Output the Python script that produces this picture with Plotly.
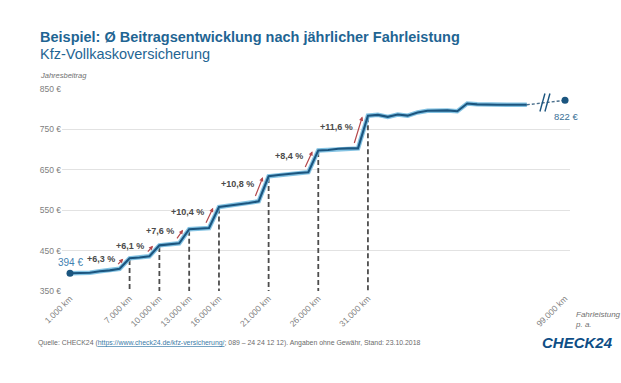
import plotly.graph_objects as go

# ---- data ----
km = [1000, 2000, 3000, 4000, 5000, 6000, 7000, 8000, 9000, 10000,
      11000, 12000, 13000, 14000, 15000, 16000, 17000, 18000, 19000, 20000,
      21000, 22000, 23000, 24000, 25000, 26000, 27000, 28000, 29000, 30000,
      31000, 32000, 33000, 34000, 35000, 36000, 37000, 38000, 39000, 40000,
      41000, 42000, 43000, 44000, 45000, 46000, 47000, 99000]
beitrag = [394, 394, 395, 399, 401, 405, 431, 433, 436, 463,
           465, 468, 503, 504, 506, 558, 561, 565, 568, 572,
           634, 637, 640, 642, 644, 698, 699, 702, 703, 703,
           784, 786, 781, 787, 784, 792, 796, 797, 797, 795,
           814, 812, 811, 811, 811, 811, 811, 822]

tick_km = [1000, 7000, 10000, 13000, 16000, 21000, 26000, 31000, 99000]
tick_text = ["1.000 km", "7.000 km", "10.000 km", "13.000 km", "16.000 km",
             "21.000 km", "26.000 km", "31.000 km", "99.000 km"]
step_km = [7000, 10000, 13000, 16000, 21000, 26000, 31000]
step_text = ["+6,3 %", "+6,1 %", "+7,6 %", "+10,4 %", "+10,8 %", "+8,4 %", "+11,6 %"]
y_ticks = [350, 450, 550, 650, 750, 850]
y_tick_text = ["350 €", "450 €", "550 €", "650 €", "750 €", "850 €"]

# ---- broken x scale: linear up to BREAK_KM, compressed beyond ----
BREAK_KM = 47000
COMPRESS = 0.074


def xpos(k):
    return k if k <= BREAK_KM else BREAK_KM + (k - BREAK_KM) * COMPRESS


val = dict(zip(km, beitrag))

W, H = 621, 383
ML, MR, MT, MB = 62, 51, 89, 92
PW, PH = W - ML - MR, H - MT - MB


def px(x):
    return (x - ML) / PW


def py(y):
    return (H - MB - y) / PH


DARK = "#1b557f"
GLOW = "rgba(110,185,222,0.85)"
TITLE_C = "#1f6593"
FONT = "Liberation Sans, Arial, sans-serif"

fig = go.Figure()

# dashed verticals at the steps
vx, vy = [], []
for t in step_km:
    vx += [xpos(t), xpos(t), None]
    vy += [val[t] - 4, 350, None]
fig.add_trace(go.Scatter(x=vx, y=vy, mode="lines", hoverinfo="skip",
                         line=dict(color="#4d4d4d", width=1.8, dash="5px,3px"),
                         showlegend=False))

solid_k = [k for k in km if k <= BREAK_KM]
solid_x = [xpos(k) for k in solid_k]
solid_y = [val[k] for k in solid_k]

fig.add_trace(go.Scatter(x=solid_x, y=solid_y, mode="lines", hoverinfo="skip",
                         line=dict(color=GLOW, width=4.5), showlegend=False))
fig.add_trace(go.Scatter(x=solid_x, y=solid_y, mode="lines",
                         line=dict(color=DARK, width=2.1), showlegend=False))

# dashed continuation to 99.000 km
fig.add_trace(go.Scatter(x=[xpos(BREAK_KM), xpos(km[-1])],
                         y=[val[BREAK_KM], val[km[-1]]], mode="lines",
                         line=dict(color="#4a6f8c", width=1.4, dash="3px,2px"),
                         showlegend=False))

fig.add_trace(go.Scatter(x=[xpos(km[0]), xpos(km[-1])], y=[beitrag[0], beitrag[-1]],
                         mode="markers", marker=dict(color=DARK, size=7),
                         showlegend=False))

annotations = []
for t, txt in zip(step_km, step_text):
    pre = t - 1000
    annotations.append(dict(
        x=xpos(t), y=val[t], ax=xpos(pre), ay=val[pre],
        xref="x", yref="y", axref="x", ayref="y", text="",
        showarrow=True, arrowhead=2, arrowsize=0.7, arrowwidth=1.2,
        arrowcolor="#b4474b", standoff=2, startstandoff=3,
        xshift=-5, yshift=1))
    annotations.append(dict(
        x=xpos(pre), y=(val[pre] + val[t]) / 2, xref="x", yref="y",
        text="<b>" + txt + "</b>", showarrow=False,
        xanchor="right", yanchor="middle", xshift=-3, yshift=5,
        font=dict(family=FONT, size=9, color="#4a4a4a")))

annotations += [
    dict(x=xpos(km[0]), y=beitrag[0], xref="x", yref="y", text="394 €",
         showarrow=False, yanchor="bottom", yshift=3,
         font=dict(family=FONT, size=10, color="#3f7fb0")),
    dict(x=xpos(km[-1]), y=beitrag[-1], xref="x", yref="y", text="822 €",
         showarrow=False, yanchor="top", yshift=-9, xshift=1,
         font=dict(family=FONT, size=9.5, color="#3a6f96")),
    dict(x=px(38), y=py(37), xref="paper", yref="paper",
         text="<b>Beispiel: Ø Beitragsentwicklung nach jährlicher Fahrleistung</b>",
         showarrow=False, xanchor="left", yanchor="middle",
         font=dict(family=FONT, size=14.5, color=TITLE_C)),
    dict(x=px(38), y=py(54), xref="paper", yref="paper",
         text="Kfz-Vollkaskoversicherung",
         showarrow=False, xanchor="left", yanchor="middle",
         font=dict(family=FONT, size=14.5, color=TITLE_C)),
    dict(x=px(38), y=py(76), xref="paper", yref="paper",
         text="<i>Jahresbeitrag</i>",
         showarrow=False, xanchor="left", yanchor="middle",
         font=dict(family=FONT, size=7.5, color="#707070")),
    dict(x=px(573), y=py(319), xref="paper", yref="paper",
         text="<i>Fahrleistung<br>p. a.</i>", align="left",
         showarrow=False, xanchor="left", yanchor="middle",
         font=dict(family=FONT, size=8, color="#707070")),
    dict(x=px(36), y=py(343), xref="paper", yref="paper",
         text="Quelle: CHECK24 (<span style='color:#3a7ca8'><u>https://www.check24.de/kfz-versicherung/</u></span>; "
              "089 – 24 24 12 12). Angaben ohne Gewähr, Stand: 23.10.2018",
         showarrow=False, xanchor="left", yanchor="middle",
         font=dict(family=FONT, size=6.9, color="#6a6a6a")),
    dict(x=px(615), y=py(342), xref="paper", yref="paper",
         text="<b><i>CHECK24</i></b>",
         showarrow=False, xanchor="right", yanchor="middle",
         font=dict(family=FONT, size=15, color="#0e4e86")),
]

# break marks "//"
bx = (xpos(BREAK_KM) + xpos(km[-1])) / 2
by = (val[BREAK_KM] + val[km[-1]]) / 2
shapes = []
for off in (-3, 2):
    shapes.append(dict(type="line", xref="x", yref="y",
                       xsizemode="pixel", ysizemode="pixel",
                       xanchor=bx, yanchor=by,
                       x0=off - 3, x1=off + 2, y0=-9, y1=9,
                       line=dict(color=DARK, width=1.4)))

fig.update_layout(
    width=W, height=H,
    margin=dict(l=ML, r=MR, t=MT, b=MB),
    paper_bgcolor="white", plot_bgcolor="white",
    annotations=annotations, shapes=shapes,
    showlegend=False,
    xaxis=dict(range=[194, xpos(99000) + 500], tickmode="array",
               tickvals=[xpos(k) for k in tick_km], ticktext=tick_text,
               tickangle=-45, showgrid=False, zeroline=False, showline=False,
               ticks="", automargin=False,
               tickfont=dict(family=FONT, size=8.5, color="#808080")),
    yaxis=dict(range=[350, 850], tickmode="array", tickvals=y_ticks,
               ticktext=y_tick_text, showgrid=True, gridcolor="#e2e2e2",
               gridwidth=1, zeroline=False, showline=False, ticks="",
               automargin=False,
               tickfont=dict(family=FONT, size=8.5, color="#808080")),
)

fig.write_html("out.html", config={"displayModeBar": False},
               post_script="document.body.style.margin='0px';")
